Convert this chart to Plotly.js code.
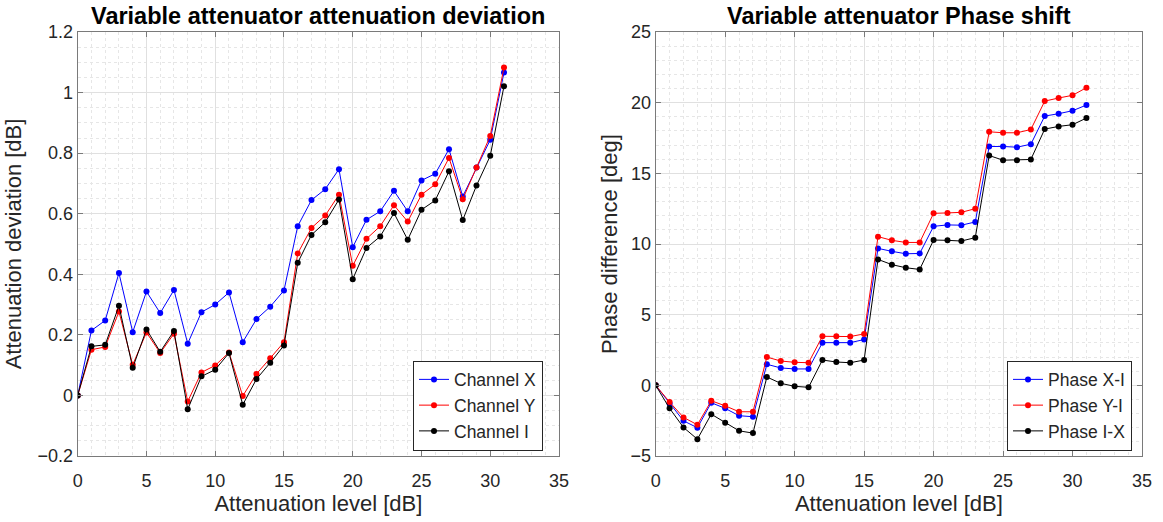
<!DOCTYPE html>
<html>
<head>
<meta charset="utf-8">
<script src="https://cdn.plot.ly/plotly-3.0.1.min.js"></script>
<style>html,body{margin:0;padding:0;background:#fff;}#chart{width:1163px;height:522px;}</style>
</head>
<body>
<div id="chart"></div>
<script>
// ---- data ----
const attenuationLevel = [0,1,2,3,4,5,6,7,8,9,10,11,12,13,14,15,16,17,18,19,20,21,22,23,24,25,26,27,28,29,30,31];

const channelX = [0,0.2145,0.2475,0.404,0.209,0.343,0.272,0.348,0.171,0.275,0.300,0.340,0.176,0.252,0.293,0.3465,0.559,0.645,0.681,0.747,0.4895,0.580,0.608,0.6755,0.608,0.710,0.732,0.813,0.657,0.7525,0.844,1.066];
const channelY = [0,0.151,0.160,0.277,0.101,0.208,0.140,0.204,-0.020,0.076,0.099,0.142,-0.002,0.071,0.123,0.176,0.469,0.553,0.594,0.663,0.428,0.517,0.559,0.628,0.574,0.663,0.697,0.784,0.648,0.7525,0.857,1.0825];
const channelI = [0,0.162,0.167,0.296,0.091,0.218,0.144,0.213,-0.046,0.063,0.085,0.140,-0.031,0.054,0.108,0.165,0.438,0.530,0.572,0.647,0.384,0.487,0.525,0.602,0.514,0.613,0.644,0.740,0.579,0.693,0.791,1.021];

const phaseXI = [0,-1.28,-2.51,-3.0,-1.23,-1.63,-2.15,-2.22,1.49,1.23,1.16,1.16,3.02,3.02,3.02,3.24,9.69,9.48,9.31,9.33,11.25,11.35,11.33,11.56,16.9,16.9,16.85,17.06,19.05,19.22,19.43,19.83];
const phaseYI = [0,-1.18,-2.27,-2.79,-1.09,-1.45,-1.87,-1.87,2.0,1.72,1.63,1.60,3.47,3.47,3.45,3.64,10.52,10.26,10.11,10.11,12.17,12.2,12.24,12.5,17.94,17.87,17.87,18.1,20.11,20.33,20.52,21.06];
const phaseIX = [0,-1.63,-2.98,-3.81,-2.04,-2.65,-3.22,-3.38,0.59,0.14,-0.07,-0.14,1.79,1.65,1.60,1.79,8.91,8.54,8.32,8.2,10.28,10.26,10.21,10.45,16.26,15.93,15.93,15.98,18.13,18.32,18.44,18.91];

const leftNames = ['Channel X','Channel Y','Channel I'];
const rightNames = ['Phase X-I','Phase Y-I','Phase I-X'];
const colors = ['#0000ff','#ff0000','#000000'];

const leftTitle = 'Variable attenuator attenuation deviation';
const rightTitle = 'Variable attenuator Phase shift';
const xTitle = 'Attenuation level [dB]';
const leftYTitle = 'Attenuation deviation [dB]';
const rightYTitle = 'Phase difference [deg]';

// ---- build ----
const FONT = 'Liberation Sans, Arial, Helvetica, sans-serif';
const TXT = '#262626';
const W = 1163, H = 522, MT = 32, MB = 66;

function tr(x, y, name, color, xa, ya, legend) {
  return {x: x, y: y, name: name, type: 'scatter', mode: 'lines+markers',
    xaxis: xa, yaxis: ya, legend: legend,
    line: {color: color, width: 1}, marker: {color: color, size: 6}};
}

const data = [
  tr(attenuationLevel, channelX, leftNames[0], colors[0], 'x', 'y', 'legend'),
  tr(attenuationLevel, channelY, leftNames[1], colors[1], 'x', 'y', 'legend'),
  tr(attenuationLevel, channelI, leftNames[2], colors[2], 'x', 'y', 'legend'),
  tr(attenuationLevel, phaseXI, rightNames[0], colors[0], 'x2', 'y2', 'legend2'),
  tr(attenuationLevel, phaseYI, rightNames[1], colors[1], 'x2', 'y2', 'legend2'),
  tr(attenuationLevel, phaseIX, rightNames[2], colors[2], 'x2', 'y2', 'legend2')
];

function axisBase(extra) {
  return Object.assign({
    showline: true, linecolor: '#7a7a7a', linewidth: 1, mirror: 'ticks',
    ticks: 'inside', ticklen: 5, tickcolor: '#7a7a7a', tickwidth: 1,
    showgrid: true, gridcolor: '#e0e0e0', gridwidth: 1,
    zeroline: false, fixedrange: true,
    tickfont: {family: FONT, size: 18, color: TXT}
  }, extra);
}

const pxL = [77.7, 559], pxR = [655.7, 1142];
const minorX = {dtick: 1, showgrid: true, gridcolor: '#e6e6e6', griddash: 'dot', ticks: ''};
const titleFont = {family: FONT, size: 22, color: TXT};
const legendFont = {family: FONT, size: 17.5, color: TXT};
const legendY = (456 - 405.5) / 424;

const layout = {
  width: W, height: H,
  margin: {l: 0, r: 0, t: MT, b: MB, pad: 0},
  paper_bgcolor: '#ffffff', plot_bgcolor: '#ffffff',
  font: {family: FONT, color: TXT},
  showlegend: true,
  xaxis: axisBase({domain: [pxL[0]/W, pxL[1]/W], anchor: 'y', range: [0, 35], dtick: 5, tick0: 0,
    minor: minorX, ticklabelstandoff: 8,
    title: {text: xTitle, font: titleFont, standoff: 5}}),
  yaxis: axisBase({domain: [0, 1], anchor: 'x', range: [-0.2, 1.2], dtick: 0.2, tick0: 0,
    minor: {dtick: 0.05, showgrid: true, gridcolor: '#e6e6e6', griddash: 'dot', ticks: ''},
    title: {text: leftYTitle, font: titleFont, standoff: 9}}),
  xaxis2: axisBase({domain: [pxR[0]/W, pxR[1]/W], anchor: 'y2', range: [0, 35], dtick: 5, tick0: 0,
    minor: minorX, ticklabelstandoff: 8,
    title: {text: xTitle, font: titleFont, standoff: 5}}),
  yaxis2: axisBase({domain: [0, 1], anchor: 'x2', range: [-5, 25], dtick: 5, tick0: 0,
    minor: {dtick: 1, showgrid: true, gridcolor: '#e6e6e6', griddash: 'dot', ticks: ''},
    title: {text: rightYTitle, font: titleFont, standoff: 6}}),
  legend: {x: 543/W, xanchor: 'right', y: legendY, yanchor: 'middle',
    bgcolor: '#ffffff', bordercolor: '#262626', borderwidth: 1,
    font: legendFont, tracegroupgap: 0, itemwidth: 30},
  legend2: {x: 1132/W, xanchor: 'right', y: legendY, yanchor: 'middle',
    bgcolor: '#ffffff', bordercolor: '#262626', borderwidth: 1,
    font: legendFont, tracegroupgap: 0, itemwidth: 30},
  annotations: [
    {text: '<b>' + leftTitle + '</b>', xref: 'paper', yref: 'paper',
     x: (pxL[0] + pxL[1]) / 2 / W, y: 1 + 16/424, xanchor: 'center', yanchor: 'middle',
     showarrow: false, font: {family: FONT, size: 23.5, color: '#000'}},
    {text: '<b>' + rightTitle + '</b>', xref: 'paper', yref: 'paper',
     x: (pxR[0] + pxR[1]) / 2 / W, y: 1 + 16/424, xanchor: 'center', yanchor: 'middle',
     showarrow: false, font: {family: FONT, size: 23.5, color: '#000'}}
  ]
};

Plotly.newPlot('chart', data, layout, {displayModeBar: false, staticPlot: true});
</script>
</body>
</html>
